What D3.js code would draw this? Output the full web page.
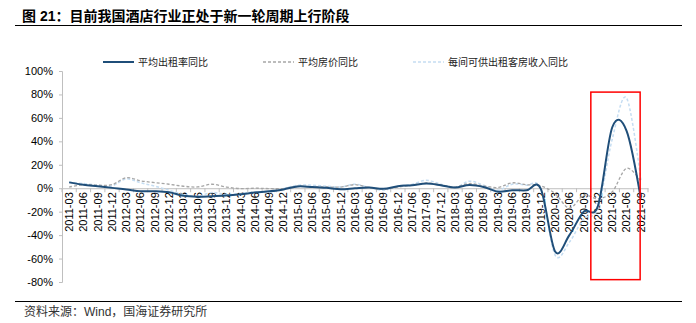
<!DOCTYPE html>
<html>
<head>
<meta charset="utf-8">
<script src="https://cdn.jsdelivr.net/npm/d3@7"></script>
<style>
  html, body { margin: 0; padding: 0; background: #fff; }
  svg { display: block; }
  text { font-family: "Liberation Sans", Arial, "Noto Sans CJK SC", sans-serif; }
</style>
</head>
<body>
<svg id="chart" width="696" height="323"></svg>
<script>
// 季度（部分季度缺失，按原序列保留）
const quarters = [
  "2011-03","2011-06","2011-09","2011-12",
  "2012-03","2012-06","2012-09","2012-12",
  "2013-03","2013-06","2013-09","2013-12",
  "2014-03","2014-06","2014-09","2014-12",
  "2015-03","2015-06","2015-09","2015-12",
  "2016-03","2016-06","2016-09","2016-12",
  "2017-06","2017-09","2017-12",
  "2018-03","2018-06","2018-09",
  "2019-03","2019-06","2019-09","2019-12",
  "2020-03","2020-06","2020-09","2020-12",
  "2021-03","2021-06","2021-09"
];

// 平均出租率同比（%）
const occupancyYoY = [
  5, 3, 1.7, 0.3,
  -1, -2.6, -2.6, -3.5,
  -6.5, -7.2, -6.8, -6.3,
  -5.2, -3.7, -2.6, -1,
  1.5, 1, 0.3, -0.8,
  0, 0.6, -0.5, 1.7,
  2.6, 4, 2.6,
  0.6, 2.8, 1.1,
  -3, -1.8, -1.8, -0.5,
  -54, -40, -20, -15,
  52, 49, -9
];

// 平均房价同比（%）
const adrYoY = [
  1, 3, 2.6, 3,
  9, 6.3, 4.8, 3.4,
  1.7, 1.1, 3.4, 1,
  -0.3, 0, -0.3, -0.3,
  1.7, 1.1, 1.1, 1,
  3, 0.6, -1, 1,
  2.6, 4.5, 3,
  1, 4, 2,
  0.6, 4.6, 3, 2,
  -4.6, -17, -6, -9,
  -3, 17, 6
];

// 每间可供出租客房收入同比（%）
const revparYoY = [
  5, 4, 2.6, 2,
  8, 4.6, 1.7, -1.7,
  -5.4, -6.8, -3.7, -5.4,
  -4.6, -3.1, -3.7, -0.3,
  2.6, 2.6, 1.7, 1.1,
  3.4, 0.6, -1.7, 1.7,
  3.4, 6.8, 3.4,
  0.6, 6, 2.6,
  -1.7, 3.4, 2.6, -0.5,
  -57, -46, -26, -17,
  42, 77, 7
];

const yTicks = [100, 80, 60, 40, 20, 0, -20, -40, -60, -80];
const seriesNames = ["平均出租率同比", "平均房价同比", "每间可供出租客房收入同比"];
const titleText = "图 21：目前我国酒店行业正处于新一轮周期上行阶段";
const sourceText = "资料来源：Wind，国海证券研究所";

// 高亮区间：2020-12 至 2021-09
const highlightFrom = "2020-12", highlightTo = "2021-09";
const highlightTop = 82, highlightBottom = -78;

const svg = d3.select("#chart");

const plot = { left: 62, right: 648, top: 71, bottom: 282 };

const x = d3.scaleBand().domain(quarters).range([plot.left, plot.right]).padding(0);
const y = d3.scaleLinear().domain([-80, 100]).range([plot.bottom, plot.top]);
const cx = q => x(q) + x.bandwidth() / 2;

// 标题与分隔线
svg.append("text")
  .attr("x", 22).attr("y", 21)
  .attr("font-size", 14).attr("font-weight", "bold")
  .attr("fill", "#000")
  .attr("font-family", "'Liberation Sans', 'Noto Sans CJK SC', sans-serif")
  .text(titleText);

svg.append("line")
  .attr("x1", 15).attr("x2", 682).attr("y1", 25.5).attr("y2", 25.5)
  .attr("stroke", "#000").attr("stroke-width", 1);

svg.append("line")
  .attr("x1", 15).attr("x2", 682).attr("y1", 301.5).attr("y2", 301.5)
  .attr("stroke", "#000").attr("stroke-width", 1);

svg.append("text")
  .attr("x", 24).attr("y", 316)
  .attr("font-size", 12).attr("fill", "#333")
  .attr("font-family", "'Noto Sans CJK SC', 'Liberation Sans', sans-serif")
  .text(sourceText);

// Y 轴
const yAxis = d3.axisLeft(y).tickValues(yTicks).tickSize(3).tickFormat(d => d + "%");
const gy = svg.append("g").attr("transform", `translate(${plot.left},0)`).call(yAxis);
gy.select(".domain").attr("stroke", "#BFBFBF");
gy.selectAll(".tick line").attr("stroke", "#BFBFBF");
gy.selectAll(".tick text")
  .attr("x", -9)
  .attr("font-size", 11).attr("fill", "#000")
  .attr("font-family", "'Liberation Sans', Arial, sans-serif");

// X 轴（位于 0 线）
const xAxis = d3.axisBottom(x).tickSize(0).tickSizeOuter(0);
const gx = svg.append("g").attr("transform", `translate(0,${y(0)})`).call(xAxis);
gx.select(".domain").attr("stroke", "#BFBFBF");
gx.selectAll(".tick text")
  .attr("font-size", 11).attr("fill", "#000")
  .attr("font-family", "'Liberation Sans', Arial, sans-serif")
  .attr("text-anchor", "end")
  .attr("transform", "rotate(-90)")
  .attr("x", -4).attr("y", 0).attr("dy", "0.35em");

// 类别之间的刻度线
const boundaries = quarters.map(q => x(q)).concat([plot.right]);
svg.append("g").selectAll("line").data(boundaries).join("line")
  .attr("x1", d => d).attr("x2", d => d)
  .attr("y1", y(0)).attr("y2", y(0) + 4)
  .attr("stroke", "#BFBFBF");

// 折线
const line = d3.line()
  .x((d, i) => cx(quarters[i]))
  .y(d => y(d))
  .curve(d3.curveCatmullRom.alpha(0));

svg.append("path").datum(revparYoY)
  .attr("d", line).attr("fill", "none")
  .attr("stroke", "#C5DDF2").attr("stroke-width", 1.5)
  .attr("stroke-dasharray", "3,2");

svg.append("path").datum(adrYoY)
  .attr("d", line).attr("fill", "none")
  .attr("stroke", "#A6A6A6").attr("stroke-width", 1.3)
  .attr("stroke-dasharray", "3,2");

svg.append("path").datum(occupancyYoY)
  .attr("d", line).attr("fill", "none")
  .attr("stroke", "#1F4E79").attr("stroke-width", 2);

// 高亮框
const hx0 = x(highlightFrom);
const hx1 = x(highlightTo) + x.bandwidth() * 0.45;
svg.append("rect")
  .attr("x", hx0).attr("y", y(highlightTop))
  .attr("width", hx1 - hx0).attr("height", y(highlightBottom) - y(highlightTop))
  .attr("fill", "none").attr("stroke", "#FF0000").attr("stroke-width", 1.5);

// 图例
const legendItems = [
  { name: seriesNames[0], x: 103, color: "#1F4E79", width: 2, dash: null },
  { name: seriesNames[1], x: 263, color: "#A6A6A6", width: 1.3, dash: "3,2" },
  { name: seriesNames[2], x: 413, color: "#C5DDF2", width: 1.5, dash: "3,2" }
];
const lg = svg.append("g").selectAll("g").data(legendItems).join("g")
  .attr("transform", d => `translate(${d.x},62)`);
lg.append("line")
  .attr("x1", 0).attr("x2", 31).attr("y1", 0).attr("y2", 0)
  .attr("stroke", d => d.color).attr("stroke-width", d => d.width)
  .attr("stroke-dasharray", d => d.dash);
lg.append("text")
  .attr("x", 35).attr("y", 0).attr("dy", "0.35em")
  .attr("font-size", 10).attr("fill", "#222")
  .attr("font-family", "'Noto Sans CJK SC', sans-serif")
  .text(d => d.name);
</script>
</body>
</html>
